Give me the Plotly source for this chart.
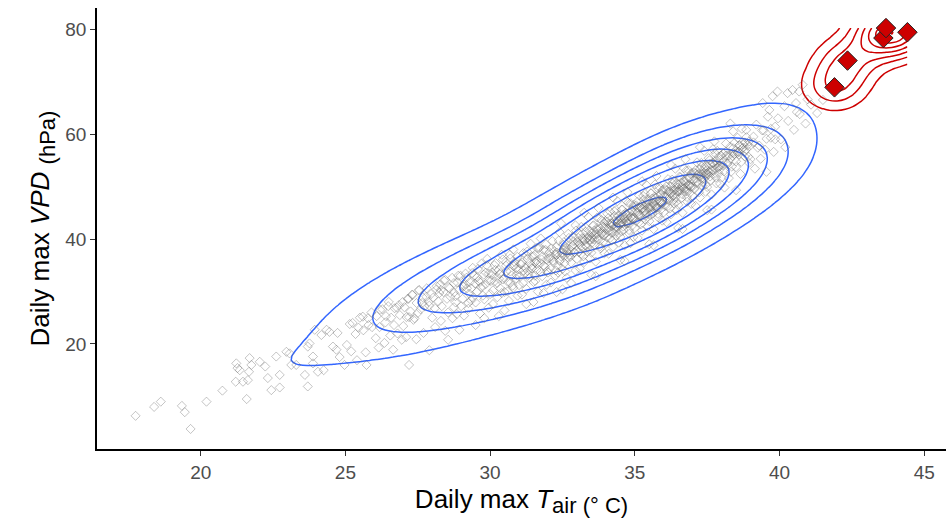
import numpy as np
import plotly.graph_objects as go

# ---------------- data ----------------
# gray points: (Daily max Tair, Daily max VPD)
gray_low = [
    (17.75, 6.3), (18.39, 8.0), (18.62, 9.0), (19.35, 8.2), (19.45, 7.0), (19.65, 3.8),
    (20.2, 9.0), (20.75, 11.1), (21.59, 9.5), (21.23, 16.3), (21.27, 15.4), (21.21, 12.8),
    (21.35, 15.0), (21.46, 12.8), (21.67, 14.7), (21.75, 16.0), (21.69, 17.3), (21.63, 13.1),
    (22.04, 16.6), (22.23, 15.7), (22.32, 13.5), (22.44, 11.2), (22.73, 14.1), (22.73, 11.7),
    (22.61, 17.6), (22.96, 18.5), (23.07, 18.2), (23.13, 16.0), (23.3, 16.0), (23.6, 14.1),
    (23.7, 11.9), (23.88, 16.3), (23.88, 17.6), (23.7, 19.5), (23.76, 20.1), (23.94, 22.7),
    (24.05, 14.7), (24.25, 15.0), (24.17, 21.7), (24.45, 22.3), (24.57, 19.5),
    (24.69, 18.9), (24.8, 17.5), (24.97, 16.0), (24.35, 22.7), (24.73, 22.1),
    (25.05, 19.8), (25.2, 18.6), (25.25, 24.0), (25.4, 16.9),
    (25.45, 23.1), (25.6, 25.2), (25.7, 18.4), (25.8, 23.6),
    (25.9, 26.0), (25.73, 16.0),
    (25.15, 23.8), (25.35, 21.9), (25.5, 25.0), (25.62, 22.6), (25.78, 24.9), (25.92, 23.2),
    (26.05, 21.1), (26.15, 19.3), (26.2, 26.5), (26.35, 20.2),
    (26.4, 25.3), (26.5, 28.0), (26.55, 21.6), (26.65, 18.9),
    (26.7, 26.8), (26.8, 22.0), (26.85, 27.4), (26.95, 20.8),
    (26.08, 25.3), (26.18, 23.2), (26.28, 26.6), (26.38, 24.1), (26.48, 27.2), (26.58, 25.0),
    (26.68, 23.6), (26.78, 26.9), (26.88, 25.5), (26.98, 28.0),
    (27.0, 23.4), (27.1, 21.3), (27.15, 28.6), (27.2, 16.0), (27.2, 25.1),
    (27.3, 29.4), (27.35, 24.6), (27.45, 20.9), (27.5, 25.9),
    (27.55, 30.3), (27.65, 27.8), (27.7, 22.1), (27.8, 29.0),
    (27.9, 18.8), (27.9, 27.3),
    (27.04, 27.0), (27.11, 25.1), (27.18, 28.6), (27.25, 26.2), (27.32, 29.3), (27.39, 24.9),
    (27.46, 27.8), (27.53, 30.2), (27.6, 26.6), (27.67, 28.9), (27.74, 27.2), (27.81, 30.6),
    (27.88, 28.0), (27.96, 29.5),
]
gray_mid = [
    (28.0, 25.0), (28.1, 23.2), (28.15, 31.0), (28.25, 29.7),
    (28.3, 24.4), (28.4, 32.1), (28.45, 22.5), (28.55, 26.0),
    (28.6, 30.6), (28.7, 24.9), (28.75, 31.6), (28.8, 29.1), (28.85, 25.7),
    (28.9, 33.0), (28.94, 22.7), (28.55, 20.8), (28.3, 30.3), (28.75, 27.0),
    (28.03, 28.8), (28.09, 26.8), (28.15, 30.4), (28.21, 28.1), (28.27, 31.3), (28.33, 27.2),
    (28.39, 29.9), (28.45, 32.2), (28.51, 28.6), (28.57, 30.8), (28.63, 29.0), (28.69, 32.6),
    (28.75, 29.8), (28.81, 27.9), (28.87, 31.7), (28.93, 30.3), (28.98, 33.0),
    (29.0, 27.2), (29.05, 31.1), (29.1, 25.4), (29.15, 33.4), (29.25, 26.7),
    (29.3, 31.8), (29.35, 28.3), (29.4, 34.5), (29.5, 23.6), (29.5, 27.9),
    (29.55, 32.7), (29.65, 25.8), (29.7, 35.3), (29.75, 31.0), (29.8, 28.5),
    (29.85, 33.6), (29.95, 26.9), (29.2, 30.6), (29.4, 28.8), (29.6, 32.0),
    (29.8, 24.9), (29.9, 36.2),
    (29.05, 28.6), (29.15, 31.4), (29.25, 27.8), (29.35, 30.6), (29.45, 33.0),
    (29.55, 30.0), (29.65, 31.8), (29.75, 29.2), (29.85, 31.4), (29.95, 33.4),
    (29.08, 30.9), (29.18, 32.6), (29.28, 29.6), (29.38, 33.5), (29.48, 31.5),
    (29.58, 34.3), (29.68, 30.8), (29.78, 33.2), (29.88, 35.0), (29.96, 32.1),
    (30.0, 29.5), (30.05, 33.2), (30.1, 27.6), (30.15, 35.0), (30.25, 28.9),
    (30.3, 34.1), (30.35, 30.6), (30.4, 37.0), (30.45, 32.3), (30.5, 26.4), (30.5, 29.9),
    (30.55, 34.9), (30.65, 28.2), (30.7, 36.3), (30.75, 33.0), (30.8, 30.7),
    (30.85, 35.6), (30.9, 32.5), (30.95, 29.2), (30.15, 31.9), (30.35, 33.5), (30.6, 30.0),
    (30.8, 38.0), (30.3, 25.3), (30.7, 31.6), (30.9, 34.4),
    (30.03, 32.0), (30.1, 30.2), (30.18, 34.1), (30.25, 31.6), (30.33, 33.3), (30.4, 29.7),
    (30.48, 32.6), (30.55, 35.6), (30.62, 31.8), (30.7, 33.8), (30.78, 31.1), (30.85, 35.0),
    (30.92, 33.1), (30.98, 34.2),
    (30.06, 33.6), (30.19, 35.4), (30.31, 32.4), (30.44, 36.1), (30.56, 33.9), (30.69, 37.0),
    (30.81, 34.8), (30.94, 36.6),
    (31.0, 31.2), (31.05, 35.2), (31.1, 29.4), (31.15, 37.3), (31.2, 33.4), (31.25, 30.5),
    (31.3, 36.2), (31.35, 32.6), (31.4, 39.1), (31.45, 34.4), (31.5, 28.0), (31.5, 31.8),
    (31.55, 37.0), (31.6, 34.1), (31.65, 30.0), (31.7, 38.4), (31.75, 35.4), (31.8, 32.9),
    (31.85, 37.9), (31.9, 34.7), (31.95, 31.3), (31.15, 34.0), (31.3, 33.9), (31.45, 36.6),
    (31.6, 35.8), (31.75, 40.1), (31.85, 29.7), (31.25, 27.6), (31.55, 33.0), (31.95, 36.1),
    (31.02, 32.9), (31.08, 35.2), (31.14, 31.6), (31.2, 34.6), (31.26, 36.9), (31.32, 33.1),
    (31.38, 35.4), (31.44, 34.4), (31.5, 36.7), (31.56, 32.0), (31.62, 35.3), (31.68, 38.2),
    (31.74, 33.7), (31.8, 36.6), (31.86, 34.9), (31.92, 37.9), (31.97, 33.9), (31.55, 35.6),
    (31.1, 35.5), (31.28, 37.6), (31.45, 34.9), (31.62, 38.3), (31.78, 36.1), (31.93, 39.0),
    (32.0, 33.6), (32.05, 37.5), (32.1, 31.7), (32.15, 39.6), (32.2, 35.6), (32.25, 33.0),
    (32.3, 38.5), (32.35, 34.9), (32.4, 41.3), (32.45, 36.7), (32.5, 30.4), (32.5, 34.3),
    (32.55, 39.4), (32.6, 36.9), (32.65, 32.6), (32.7, 41.0), (32.75, 38.0), (32.8, 35.5),
    (32.85, 40.4), (32.9, 37.4), (32.95, 34.0), (32.1, 36.2), (32.25, 37.1), (32.4, 35.8),
    (32.55, 37.9), (32.7, 36.4), (32.85, 38.8), (32.95, 42.6), (32.3, 29.9), (32.6, 33.8),
    (32.8, 31.6), (32.45, 43.0),
    (32.1, 36.6), (32.3, 37.0), (32.5, 37.4), (32.6, 38.2), (32.75, 37.0), (32.9, 39.0),
    (32.02, 36.3), (32.07, 34.4), (32.12, 38.2), (32.17, 35.9), (32.22, 37.7), (32.27, 34.0),
    (32.32, 37.4), (32.37, 39.7), (32.42, 35.9), (32.47, 37.3), (32.52, 38.9), (32.57, 35.4),
    (32.62, 38.5), (32.67, 37.4), (32.72, 40.2), (32.77, 36.6), (32.82, 38.5), (32.87, 39.6),
    (32.92, 37.5), (32.97, 41.6), (32.35, 33.6), (32.65, 37.7),
    (33.0, 36.2), (33.05, 40.2), (33.1, 34.4), (33.15, 42.3), (33.2, 38.3), (33.25, 35.6),
    (33.3, 41.4), (33.35, 37.6), (33.4, 44.2), (33.45, 39.8), (33.5, 33.2), (33.5, 37.4),
    (33.55, 42.5), (33.6, 39.9), (33.65, 35.7), (33.7, 44.1), (33.75, 41.1), (33.8, 38.6),
    (33.85, 43.6), (33.9, 40.7), (33.95, 37.3), (33.1, 39.0), (33.2, 40.1), (33.3, 38.7),
    (33.4, 40.6), (33.5, 39.2), (33.6, 41.6), (33.7, 40.3), (33.8, 42.0), (33.9, 39.4),
    (33.25, 45.0), (33.65, 32.9), (33.45, 36.3), (33.75, 45.9), (33.15, 37.2), (33.95, 43.0),
    (33.05, 39.3), (33.2, 39.6), (33.35, 40.0), (33.5, 40.4), (33.6, 40.8), (33.7, 41.8),
    (33.85, 41.0), (33.95, 42.1),
    (33.02, 39.5), (33.06, 37.5), (33.1, 41.0), (33.14, 38.6), (33.18, 40.2), (33.22, 36.7),
    (33.26, 39.7), (33.3, 42.2), (33.34, 38.6), (33.38, 40.3), (33.42, 41.6), (33.46, 38.0),
    (33.5, 41.0), (33.54, 40.0), (33.58, 42.6), (33.62, 38.9), (33.66, 40.9), (33.7, 42.1),
    (33.74, 39.9), (33.78, 43.9), (33.82, 38.2), (33.86, 41.3), (33.9, 42.4), (33.94, 40.7),
    (33.98, 43.4), (33.44, 39.9),
]
gray_high = [
    (34.0, 39.1), (34.05, 43.3), (34.1, 37.2), (34.15, 45.2), (34.2, 41.2), (34.25, 38.5),
    (34.3, 44.4), (34.35, 40.6), (34.4, 47.2), (34.45, 42.8), (34.5, 36.0), (34.5, 40.4),
    (34.55, 45.6), (34.6, 43.0), (34.65, 38.8), (34.7, 47.3), (34.75, 44.2), (34.8, 41.7),
    (34.85, 46.8), (34.9, 43.9), (34.95, 40.4), (34.1, 42.1), (34.2, 43.0), (34.3, 42.0),
    (34.4, 43.6), (34.5, 42.9), (34.6, 44.6), (34.7, 43.3), (34.8, 45.0), (34.9, 42.5),
    (34.25, 47.9), (34.65, 35.8), (34.45, 39.3), (34.75, 48.9), (34.15, 40.2), (34.95, 46.1),
    (34.35, 45.5), (34.55, 41.5), (34.85, 39.2), (34.05, 44.8),
    (34.0, 41.0), (34.1, 42.9), (34.2, 42.4), (34.25, 41.3), (34.3, 43.5), (34.4, 42.2),
    (34.5, 44.0), (34.55, 43.2), (34.6, 42.4), (34.7, 44.8), (34.75, 43.0), (34.8, 43.8),
    (34.9, 45.3), (34.95, 44.1),
    (34.02, 42.1), (34.05, 40.3), (34.09, 44.0), (34.13, 41.6), (34.17, 43.0), (34.21, 39.7),
    (34.25, 42.7), (34.29, 45.3), (34.33, 41.4), (34.37, 43.3), (34.41, 44.4), (34.45, 41.1),
    (34.49, 43.8), (34.53, 43.0), (34.57, 45.6), (34.61, 41.7), (34.65, 43.8), (34.69, 45.0),
    (34.73, 43.0), (34.77, 46.9), (34.81, 41.0), (34.85, 44.2), (34.89, 45.5), (34.93, 43.8),
    (34.97, 46.5), (34.35, 42.4), (34.63, 44.0), (34.79, 43.0),
    (35.0, 42.1), (35.05, 46.4), (35.1, 40.2), (35.15, 48.3), (35.2, 44.3), (35.25, 41.6),
    (35.3, 47.5), (35.35, 43.7), (35.4, 50.3), (35.45, 45.9), (35.5, 39.0), (35.5, 43.4),
    (35.55, 48.7), (35.6, 46.1), (35.65, 41.9), (35.7, 50.4), (35.75, 47.3), (35.8, 44.8),
    (35.85, 49.9), (35.9, 47.0), (35.95, 43.5), (35.1, 45.1), (35.2, 46.0), (35.3, 45.1),
    (35.4, 46.7), (35.5, 46.0), (35.6, 47.7), (35.7, 46.4), (35.8, 48.1), (35.9, 45.6),
    (35.25, 51.0), (35.65, 38.8), (35.45, 42.4), (35.75, 52.0), (35.15, 43.2), (35.95, 49.2),
    (35.35, 48.6), (35.55, 44.6),
    (35.0, 44.0), (35.1, 46.0), (35.15, 44.6), (35.25, 46.6), (35.3, 45.8), (35.4, 44.9),
    (35.45, 47.2), (35.55, 46.2), (35.6, 45.2), (35.7, 47.8), (35.75, 46.0), (35.85, 47.0),
    (35.9, 48.6), (35.95, 46.9),
    (35.02, 45.2), (35.05, 43.4), (35.09, 47.1), (35.13, 44.5), (35.17, 46.1), (35.21, 42.8),
    (35.25, 45.8), (35.29, 48.2), (35.33, 44.5), (35.37, 46.4), (35.41, 47.5), (35.45, 44.2),
    (35.49, 46.7), (35.53, 45.9), (35.57, 48.7), (35.61, 44.8), (35.65, 46.7), (35.69, 48.1),
    (35.73, 45.9), (35.77, 49.8), (35.81, 44.1), (35.85, 47.4), (35.89, 48.4), (35.93, 46.7),
    (35.97, 49.4), (35.35, 45.5), (35.63, 46.9), (35.79, 46.0),
    (36.0, 45.1), (36.05, 49.5), (36.1, 43.2), (36.15, 51.4), (36.2, 47.4), (36.25, 44.7),
    (36.3, 50.6), (36.35, 46.8), (36.4, 53.4), (36.45, 49.0), (36.5, 42.1), (36.5, 46.5),
    (36.55, 51.9), (36.6, 49.2), (36.65, 45.0), (36.7, 53.5), (36.75, 50.5), (36.8, 48.0),
    (36.85, 53.1), (36.9, 50.2), (36.95, 46.7), (36.1, 48.2), (36.2, 49.1), (36.3, 48.2),
    (36.4, 49.8), (36.5, 49.1), (36.6, 50.8), (36.7, 49.6), (36.8, 51.3), (36.9, 48.8),
    (36.25, 54.1), (36.65, 41.9), (36.45, 45.5), (36.75, 55.2), (36.15, 46.3), (36.95, 52.4),
    (36.0, 47.0), (36.1, 49.3), (36.2, 48.0), (36.25, 50.0), (36.35, 49.2), (36.4, 47.9),
    (36.5, 50.4), (36.55, 49.4), (36.65, 48.5), (36.7, 51.1), (36.8, 49.6), (36.85, 50.4),
    (36.9, 51.9), (36.95, 50.0),
    (36.02, 48.2), (36.05, 46.3), (36.09, 50.0), (36.13, 47.5), (36.17, 49.1), (36.21, 45.8),
    (36.25, 48.7), (36.29, 51.3), (36.33, 47.4), (36.37, 49.4), (36.41, 50.5), (36.45, 47.1),
    (36.49, 49.8), (36.53, 49.1), (36.57, 51.7), (36.61, 47.8), (36.65, 49.8), (36.69, 51.0),
    (36.73, 49.1), (36.77, 53.0), (36.81, 47.1), (36.85, 50.2), (36.89, 51.6), (36.93, 49.9),
    (36.97, 52.6), (36.35, 48.4), (36.63, 50.1), (36.79, 49.1),
    (37.0, 48.2), (37.05, 52.7), (37.1, 46.3), (37.15, 54.6), (37.2, 50.6), (37.25, 47.9),
    (37.3, 53.9), (37.35, 50.1), (37.4, 56.8), (37.45, 52.4), (37.5, 45.5), (37.5, 49.9),
    (37.55, 55.4), (37.6, 52.7), (37.65, 48.5), (37.7, 57.1), (37.75, 54.1), (37.8, 51.7),
    (37.85, 56.8), (37.9, 53.9), (37.95, 50.5), (37.1, 51.5), (37.2, 52.4), (37.3, 51.6),
    (37.4, 53.2), (37.5, 52.5), (37.6, 54.3), (37.7, 53.1), (37.8, 54.9), (37.9, 52.5),
    (37.25, 57.5), (37.65, 45.6), (37.45, 49.0), (37.75, 58.6),
    (37.0, 50.0), (37.1, 52.5), (37.15, 51.0), (37.25, 53.3), (37.3, 52.4), (37.4, 51.5),
    (37.45, 54.0), (37.55, 52.8), (37.6, 51.9), (37.7, 54.6), (37.8, 53.4), (37.85, 54.4),
    (37.9, 55.7), (37.95, 53.9),
    (37.02, 51.2), (37.06, 49.5), (37.1, 53.1), (37.14, 50.7), (37.18, 52.3), (37.22, 48.9),
    (37.26, 51.9), (37.3, 54.5), (37.34, 50.8), (37.38, 52.6), (37.42, 53.7), (37.46, 50.4),
    (37.5, 53.1), (37.54, 52.3), (37.58, 55.0), (37.62, 51.1), (37.66, 53.1), (37.7, 54.4),
    (37.74, 52.4), (37.78, 56.3), (37.82, 50.6), (37.86, 53.6), (37.9, 55.0), (37.94, 53.3),
    (37.98, 55.9), (37.44, 52.1),
    (38.0, 51.7), (38.05, 56.3), (38.1, 49.8), (38.15, 58.2), (38.2, 54.3), (38.25, 51.6),
    (38.3, 57.6), (38.35, 53.8), (38.4, 60.5), (38.45, 56.2), (38.5, 49.3), (38.5, 53.7),
    (38.55, 59.3), (38.6, 56.6), (38.65, 52.4), (38.7, 61.0), (38.75, 58.0), (38.8, 55.7),
    (38.85, 60.8), (38.9, 57.9), (38.95, 54.5), (38.2, 55.9), (38.4, 56.4), (38.6, 57.8),
    (38.8, 58.4), (38.3, 62.0),
    (38.05, 54.0), (38.15, 55.9), (38.3, 55.2), (38.4, 57.3), (38.55, 56.4), (38.7, 57.2),
    (38.85, 57.1), (38.95, 58.6),
    (38.03, 54.6), (38.08, 52.9), (38.14, 56.6), (38.2, 54.4), (38.26, 55.9), (38.32, 52.8),
    (38.38, 55.8), (38.44, 58.3), (38.5, 54.8), (38.56, 56.7), (38.62, 57.9), (38.68, 54.7),
    (38.74, 57.4), (38.8, 56.6), (38.86, 59.4), (38.92, 55.7), (38.97, 57.7), (38.6, 56.1),
    (39.0, 55.2), (39.1, 59.5), (39.15, 53.4), (39.2, 61.8), (39.3, 57.8), (39.35, 55.3),
    (39.42, 65.9), (39.45, 60.7), (39.5, 57.0), (39.6, 63.3), (39.65, 64.6), (39.7, 59.3),
    (39.76, 67.2), (39.8, 56.6), (39.85, 61.4), (39.93, 68.1), (39.95, 63.0), (39.55, 52.8),
    (39.1, 58.4), (39.25, 57.4), (39.4, 60.7), (39.55, 59.1), (39.7, 61.0), (39.85, 59.0),
    (40.05, 59.0), (40.17, 65.3), (40.28, 67.8), (40.3, 62.5), (40.45, 68.4), (40.5, 60.8),
    (40.57, 65.9), (40.68, 68.1), (40.7, 63.8), (40.8, 69.4), (40.9, 62.0), (40.97, 66.6),
    (40.2, 57.5), (40.6, 64.2), (41.09, 65.6), (41.3, 64.0), (41.5, 66.5),
]
# red (extreme) days
tair_red = [41.9, 42.35, 43.59, 43.68, 44.42]
vpd_red = [68.9, 74.0, 78.3, 80.2, 79.4]

x_ticks = [20, 25, 30, 35, 40, 45]
y_ticks = [20, 40, 60, 80]

# ---------------- helpers (ggplot2 / MASS style) ----------------
gray = np.array(gray_low + gray_mid + gray_high, dtype=float)
tair_gray, vpd_gray = gray[:, 0], gray[:, 1]
tr, vr = np.array(tair_red), np.array(vpd_red)

all_x = np.concatenate([tair_gray, tr])
all_y = np.concatenate([vpd_gray, vr])
xlim = (all_x.min(), all_x.max())
ylim = (all_y.min(), all_y.max())


def bw_nrd(v):
    q75, q25 = np.percentile(v, [75, 25])
    return 4 * 1.06 * min(np.std(v, ddof=1), (q75 - q25) / 1.34) * len(v) ** (-0.2)


def kde2d(x, y, adjust=1.0, n=100):
    gx = np.linspace(xlim[0], xlim[1], n)
    gy = np.linspace(ylim[0], ylim[1], n)
    hx, hy = adjust * bw_nrd(x) / 4, adjust * bw_nrd(y) / 4
    ax = (gx[:, None] - x[None, :]) / hx
    ay = (gy[:, None] - y[None, :]) / hy
    px = np.exp(-0.5 * ax ** 2) / np.sqrt(2 * np.pi)
    py = np.exp(-0.5 * ay ** 2) / np.sqrt(2 * np.pi)
    z = px @ py.T / (len(x) * hx * hy)   # [nx, ny]
    return gx, gy, z.T                    # z[ny, nx]


def pretty_step(lo, hi, ndiv=10):
    cell = (hi - lo) / ndiv
    U = 10 ** np.floor(np.log10(cell))
    unit = U
    if 2 * U - cell < 1.5 * (cell - unit):
        unit = 2 * U
        if 5 * U - cell < 2.75 * (cell - unit):
            unit = 5 * U
            if 10 * U - cell < 1.5 * (cell - unit):
                unit = 10 * U
    return unit


def contour_trace(x, y, color, nlev=None, adjust=1.0):
    gx, gy, z = kde2d(x, y, adjust)
    if nlev is None:
        step = pretty_step(z.min(), z.max())
        nlev = int(np.floor(z.max() / step))
    else:
        step = z.max() / (nlev + 0.2)
    return go.Contour(
        x=gx, y=gy, z=z, showscale=False, hoverinfo="skip",
        contours=dict(coloring="none", start=step, end=step * nlev, size=step),
        line=dict(color=color, width=1.5, smoothing=1.0),
    )


xr = [xlim[0] - 0.05 * (xlim[1] - xlim[0]), xlim[1] + 0.05 * (xlim[1] - xlim[0])]
yr = [ylim[0] - 0.05 * (ylim[1] - ylim[0]), ylim[1] + 0.05 * (ylim[1] - ylim[0])]

fig = go.Figure()
fig.add_trace(go.Scatter(
    x=tair_gray, y=vpd_gray, mode="markers", hoverinfo="skip",
    marker=dict(symbol="diamond-open", size=7, color="rgba(100,100,100,0.38)",
                line=dict(width=1, color="rgba(100,100,100,0.38)")),
))
fig.add_trace(contour_trace(tair_gray, vpd_gray, "#3366FF", nlev=7, adjust=1.3))
fig.add_trace(contour_trace(tr, vr, "#CD0000"))
fig.add_trace(go.Scatter(
    x=tr, y=vr, mode="markers", hoverinfo="skip",
    marker=dict(symbol="diamond", size=15, color="#CD0000",
                line=dict(width=1, color="#222222")),
))

font = "Liberation Sans, Arial, sans-serif"
sub = '<sub><span style="font-size:22px">{}</span></sub>'
axis_common = dict(
    showgrid=False, zeroline=False, showline=True, linecolor="black", linewidth=1.5,
    ticks="outside", ticklen=5, tickwidth=1.2, tickcolor="#333333",
    tickfont=dict(size=19, color="#4d4d4d", family=font),
)
fig.update_layout(
    width=947, height=526, showlegend=False,
    paper_bgcolor="white", plot_bgcolor="white",
    margin=dict(l=97, r=1, t=8, b=77),
    xaxis=dict(range=xr, tickvals=x_ticks, **axis_common,
               title=dict(text="Daily max <i>T</i>" + sub.format("air (° C)"),
                          font=dict(size=26, color="black", family=font), standoff=8)),
    yaxis=dict(range=yr, tickvals=y_ticks, **axis_common,
               title=dict(text="Daily max <i>VPD</i> " + sub.format("(hPa)"),
                          font=dict(size=26, color="black", family=font), standoff=8)),
)
fig.write_html("out.html")
